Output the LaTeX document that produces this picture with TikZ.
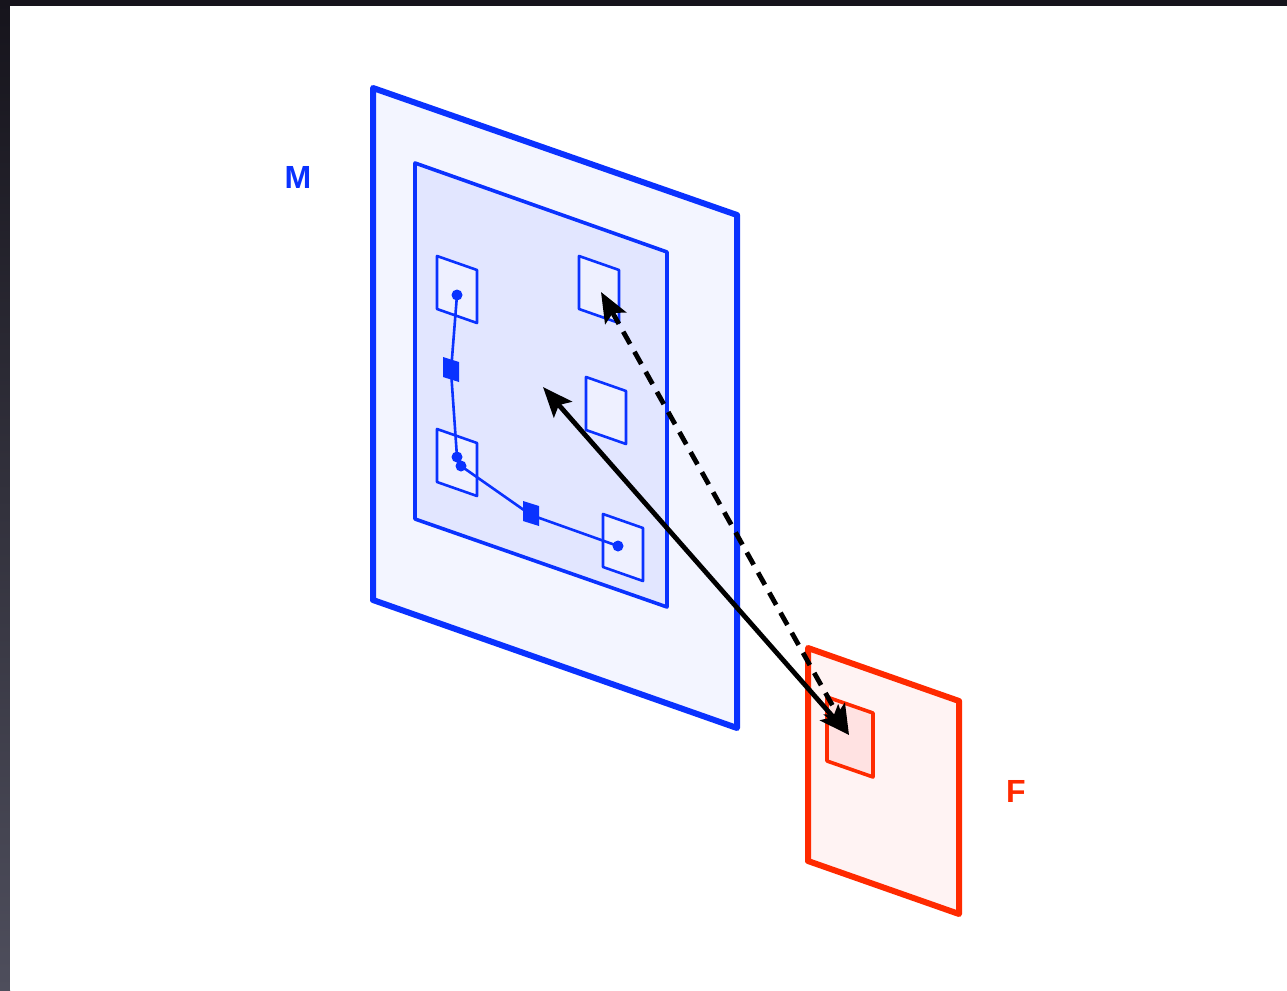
\documentclass[tikz,border=0pt]{standalone}
\usepackage{fontspec}
\setmainfont{Liberation Sans}
\usetikzlibrary{arrows.meta,calc}
\definecolor{mblue}{HTML}{0A32FF}
\definecolor{mred}{HTML}{FF2A00}
\definecolor{outerfill}{HTML}{F3F5FF}
\definecolor{innerfill}{HTML}{E2E6FF}
\definecolor{cellfill}{HTML}{EEF0FF}
\definecolor{redouter}{HTML}{FFF3F3}
\definecolor{redinner}{HTML}{FFE2E2}
\definecolor{frame}{HTML}{16141C}
\tikzset{
  panel/.style={draw=mblue, line width=6pt, fill=outerfill, line join=round},
  subpanel/.style={draw=mblue, line width=3.6pt, fill=innerfill, line join=round},
  cell/.style={draw=mblue, line width=2.6pt, fill=cellfill, line join=round},
  rpanel/.style={draw=mred, line width=6pt, fill=redouter, line join=round},
  rcell/.style={draw=mred, line width=3.6pt, fill=redinner, line join=round},
  link/.style={draw=mblue, line width=2.6pt},
  dot/.style={fill=mblue},
  bigarrow/.style={draw=black, line width=4.8pt, {Stealth[length=30pt,width=24pt,inset=6pt]}-{Stealth[length=30pt,width=24pt,inset=6pt]}},
  dasharrow/.style={bigarrow, dash pattern=on 14pt off 9pt},
  lbl/.style={font=\bfseries\fontsize{32}{34}\selectfont, inner sep=0pt}
}
\begin{document}
\begin{tikzpicture}[x=1pt,y=-1pt]
\useasboundingbox (0,0) rectangle (1287,990);
% screenshot frame
\fill[frame] (0,0) rectangle (1287,990);
\shade[top color=frame, bottom color={rgb,255:red,78;green,78;blue,92}] (0,0) rectangle (10,990);
\fill[white] (10,6) rectangle (1287,990);
% M panel
\draw[panel] (373,88) -- (737,215) -- (737,728) -- (373,600) -- cycle;
\draw[subpanel] (415,163) -- (667,252) -- (667,607) -- (415,519) -- cycle;
% cells
\foreach \x/\y in {437/256, 579/256, 586/377, 437/429, 603/514}
  \draw[cell] (\x,\y) -- ++(40,14) -- ++(0,53) -- ++(-40,-14) -- cycle;
% links
\coordinate (d1) at (457,295);
\coordinate (d2) at (457,457);
\coordinate (d3) at (461,466);
\coordinate (d4) at (618,546);
\coordinate (j1) at (451,371);
\coordinate (j2) at (531,515);
\draw[link] (d1) -- (j1) -- (d2);
\draw[link] (d3) -- (j2) -- (d4);
\foreach \c in {d1,d2,d3,d4} \fill[dot] (\c) circle (5.5pt);
\foreach \c in {j1,j2} \fill[dot] ($(\c)+(-8,-14)$) -- ++(16,5) -- ++(0,20) -- ++(-16,-5) -- cycle;
\node[lbl, text=mblue] (M) at (298,177) {M};
% F panel
\draw[rpanel] (808,648) -- (959,701) -- (959,914) -- (808,861) -- cycle;
\draw[rcell] (827,697) -- (873,713) -- (873,777) -- (827,761) -- cycle;
\node[lbl, text=mred] (F) at (1016,791) {F};
% arrows
\coordinate (sa) at (543,387);
\coordinate (da) at (601,292);
\coordinate (fe) at (849,735);
\draw[dasharrow] (da) -- (fe);
\draw[bigarrow] (sa) -- (fe);
\end{tikzpicture}
\end{document}
